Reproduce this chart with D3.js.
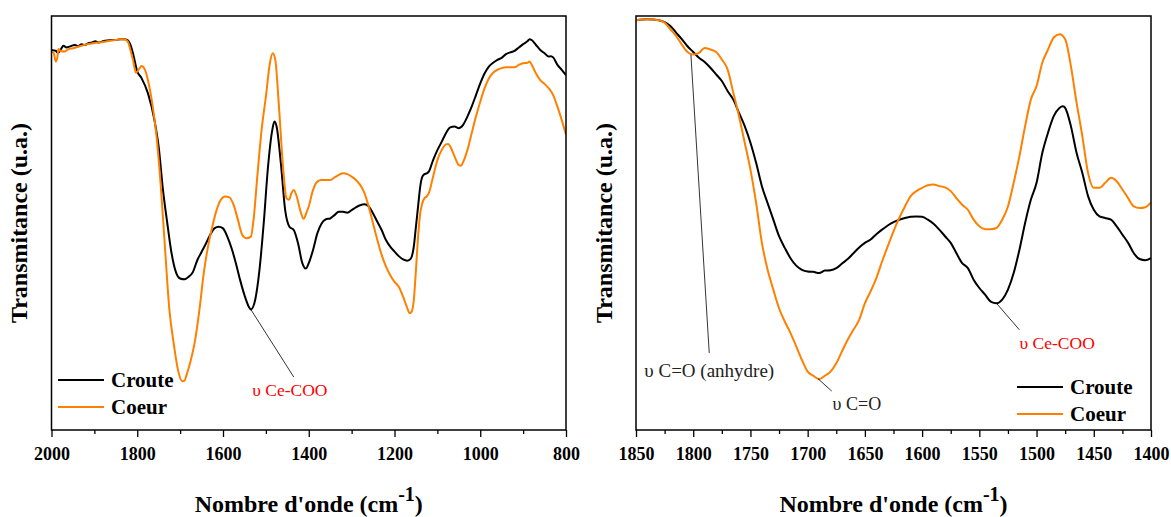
<!DOCTYPE html>
<html>
<head>
<meta charset="utf-8">
<script src="https://cdn.jsdelivr.net/npm/d3@7"></script>
<style>
  html, body { margin: 0; padding: 0; background: #fff; }
  svg { display: block; }
</style>
</head>
<body>
<svg id="chart" width="1171" height="517"></svg>
<script>
// ---------- DATA (wavenumber cm-1, transmittance a.u.) ----------
const leftCroute = [[2000,91.8],[1995,91.7],[1990,91.6],[1985,91.1],[1978,92.0],[1972,92.8],[1965,92.4],[1958,92.6],[1950,92.9],[1945,93.0],[1938,92.7],[1930,93.2],[1922,93.0],[1915,93.4],[1905,93.6],[1898,93.9],[1890,93.6],[1880,93.9],[1870,94.1],[1860,94.2],[1850,94.2],[1840,94.4],[1830,94.4],[1825,94.3],[1820,93.9],[1815,92.8],[1810,91.0],[1800,86.6],[1790,85.0],[1775,81.3],[1760,74.9],[1750,68.4],[1740,58.0],[1730,50.0],[1720,42.7],[1710,38.2],[1700,36.6],[1690,36.4],[1680,37.0],[1670,38.2],[1660,41.0],[1650,43.0],[1640,45.0],[1630,47.1],[1620,48.7],[1610,49.1],[1600,48.7],[1590,46.7],[1580,43.9],[1570,40.3],[1560,36.2],[1550,32.6],[1540,29.8],[1535,29.1],[1525,31.4],[1515,38.6],[1505,50.0],[1495,63.6],[1485,72.5],[1480,74.5],[1475,73.3],[1465,64.4],[1455,53.1],[1445,49.1],[1435,48.3],[1425,45.1],[1415,40.3],[1407,39.0],[1400,40.3],[1390,43.5],[1380,47.5],[1370,49.9],[1360,50.9],[1350,51.1],[1340,51.9],[1330,52.7],[1320,52.7],[1310,52.5],[1300,53.1],[1290,53.8],[1280,54.3],[1270,54.5],[1260,54.0],[1250,52.3],[1240,50.3],[1230,48.3],[1220,45.9],[1210,44.3],[1200,43.1],[1190,42.0],[1180,41.2],[1170,40.9],[1162,41.4],[1155,44.3],[1150,49.1],[1145,54.0],[1140,58.8],[1135,61.2],[1130,61.8],[1125,62.0],[1120,62.4],[1110,65.2],[1100,67.6],[1090,69.6],[1080,71.7],[1070,73.1],[1060,73.3],[1050,72.9],[1040,73.7],[1030,75.7],[1020,78.1],[1010,80.9],[1000,83.7],[990,86.1],[980,87.8],[970,88.7],[960,89.4],[950,89.9],[940,90.8],[930,91.2],[920,91.6],[910,92.4],[900,93.2],[890,93.9],[885,94.4],[880,94.2],[870,93.0],[860,91.8],[850,91.0],[840,90.2],[835,90.3],[830,90.0],[820,88.2],[810,87.0],[800,85.7]];

const leftCoeur = [[2000,91.4],[1995,91.1],[1990,89.0],[1986,90.2],[1984,92.0],[1980,91.6],[1970,91.4],[1960,92.0],[1950,92.2],[1940,92.5],[1930,92.8],[1920,93.1],[1910,93.3],[1900,93.5],[1880,93.7],[1860,94.1],[1850,94.2],[1840,94.4],[1830,94.4],[1822,93.8],[1815,91.4],[1810,89.4],[1803,86.3],[1795,87.3],[1790,87.9],[1782,87.0],[1775,84.5],[1765,78.9],[1755,70.9],[1745,58.8],[1735,43.5],[1725,29.0],[1715,20.9],[1705,14.5],[1695,11.8],[1690,11.9],[1685,13.3],[1675,16.9],[1665,21.7],[1655,29.0],[1645,37.8],[1635,44.3],[1625,49.1],[1615,53.1],[1605,55.6],[1595,56.4],[1585,56.2],[1575,54.3],[1565,50.7],[1555,47.1],[1545,46.3],[1535,46.7],[1528,51.5],[1520,61.2],[1510,72.5],[1500,80.5],[1490,89.0],[1484,91.0],[1478,89.4],[1470,78.9],[1460,63.6],[1452,56.0],[1446,55.6],[1440,57.3],[1435,58.0],[1428,56.4],[1420,53.1],[1412,51.0],[1405,52.6],[1400,54.0],[1390,58.0],[1380,60.0],[1370,60.4],[1360,60.4],[1350,60.4],[1340,61.0],[1330,61.6],[1320,62.0],[1310,61.8],[1300,61.2],[1290,60.4],[1280,59.2],[1270,57.2],[1260,53.9],[1250,49.9],[1240,45.9],[1230,42.3],[1220,39.5],[1210,37.4],[1200,35.8],[1190,34.6],[1180,32.2],[1170,29.4],[1165,28.2],[1160,28.6],[1155,31.4],[1150,38.6],[1145,46.7],[1140,52.3],[1135,54.8],[1130,56.0],[1125,56.4],[1120,57.2],[1110,61.2],[1100,65.2],[1090,67.6],[1080,69.0],[1075,69.1],[1070,68.5],[1060,66.1],[1050,64.0],[1045,63.8],[1040,64.7],[1030,67.6],[1020,71.7],[1010,75.7],[1000,79.3],[990,82.5],[980,84.9],[970,86.3],[960,87.0],[950,87.4],[940,87.6],[930,87.6],[920,87.6],[910,88.2],[900,88.6],[890,88.7],[885,89.0],[880,88.2],[870,86.1],[860,84.5],[850,83.6],[840,82.5],[830,80.9],[820,78.1],[810,74.9],[800,71.3]];

const rightCroute = [[1850,99.0],[1840,99.2],[1830,99.0],[1825,98.5],[1820,97.6],[1815,96.0],[1810,94.4],[1805,92.7],[1800,91.3],[1795,89.9],[1790,88.9],[1785,87.5],[1780,85.9],[1775,84.3],[1770,81.9],[1765,79.8],[1760,76.6],[1755,73.4],[1750,69.4],[1745,64.5],[1740,58.9],[1735,54.8],[1730,50.8],[1725,46.8],[1720,44.0],[1715,41.5],[1710,39.7],[1705,38.7],[1700,38.3],[1695,38.2],[1690,37.9],[1685,38.5],[1680,38.6],[1675,39.1],[1670,40.2],[1665,41.3],[1660,42.7],[1655,44.1],[1650,45.2],[1645,46.0],[1640,47.3],[1635,48.4],[1630,49.4],[1625,50.2],[1620,50.8],[1615,51.2],[1610,51.5],[1605,51.6],[1600,51.5],[1595,50.8],[1590,49.8],[1585,48.4],[1580,46.8],[1575,45.2],[1570,42.7],[1565,40.3],[1560,39.1],[1555,36.3],[1550,34.3],[1545,32.7],[1540,31.0],[1535,30.6],[1530,31.5],[1525,33.9],[1520,37.9],[1515,43.5],[1510,50.0],[1505,55.6],[1500,59.7],[1495,66.9],[1490,71.8],[1485,75.8],[1480,77.8],[1477,78.2],[1475,77.8],[1470,73.4],[1465,66.9],[1460,62.1],[1455,56.5],[1450,53.2],[1445,51.6],[1440,51.2],[1435,50.8],[1430,49.2],[1425,47.2],[1420,45.2],[1415,42.7],[1410,41.3],[1405,41.0],[1400,41.5]];

const rightCoeur = [[1850,99.0],[1840,99.2],[1830,99.0],[1825,98.4],[1820,96.8],[1815,95.2],[1810,93.1],[1805,91.3],[1800,90.7],[1795,91.1],[1790,92.3],[1785,91.9],[1780,91.3],[1775,89.5],[1770,87.1],[1765,81.5],[1760,75.8],[1755,69.4],[1750,62.9],[1745,54.8],[1740,45.2],[1735,38.7],[1730,33.9],[1725,29.4],[1720,26.2],[1715,23.4],[1710,20.2],[1705,16.9],[1700,14.1],[1695,13.1],[1690,12.3],[1685,13.1],[1680,14.1],[1675,16.1],[1670,19.0],[1665,21.8],[1660,24.2],[1655,26.6],[1650,30.6],[1645,33.5],[1640,36.7],[1635,40.7],[1630,44.4],[1625,48.0],[1620,51.2],[1615,54.0],[1610,56.5],[1605,57.7],[1600,58.5],[1595,59.1],[1590,59.3],[1585,58.9],[1580,58.6],[1575,57.7],[1570,56.0],[1565,54.4],[1560,53.2],[1555,50.8],[1550,49.2],[1545,48.5],[1540,48.5],[1535,48.8],[1530,50.8],[1525,54.0],[1520,59.7],[1515,66.1],[1510,73.4],[1505,79.8],[1500,83.1],[1495,88.7],[1490,91.9],[1485,94.8],[1480,95.6],[1475,94.4],[1470,87.9],[1465,79.0],[1460,71.0],[1455,62.1],[1450,58.5],[1445,58.5],[1440,59.7],[1435,60.9],[1430,60.1],[1425,58.1],[1420,56.0],[1415,54.0],[1410,53.6],[1405,53.8],[1400,55.0]];

const leftMajorTicks = [2000, 1800, 1600, 1400, 1200, 1000, 800];
const leftMinorTicks = [1900, 1700, 1500, 1300, 1100, 900];
const rightMajorTicks = [1850, 1800, 1750, 1700, 1650, 1600, 1550, 1500, 1450, 1400];
const rightMinorTicks = [1825, 1775, 1725, 1675, 1625, 1575, 1525, 1475, 1425];

const seriesNames = ["Croute", "Coeur"];
const seriesColors = ["#000000", "#ff8000"];

// annotations: [label, anchor wavenumber, anchor value, line-end wavenumber, line-end value, text wavenumber, text value, colour, font size]
const leftNotes = [["υ Ce-COO", 1535, 29.1, 1435, 12.8, 1444, 9.6, "#ff0000", 17.5]];
const rightNotes = [
  ["υ C=O (anhydre)", 1802, 90.6, 1786, 18.6, 1786, 14.4, "#222222", 19],
  ["υ C=O", 1691, 12.4, 1679, 9.4, 1657, 6.4, "#222222", 18],
  ["υ Ce-COO", 1535, 30.6, 1515, 24.2, 1482, 21.0, "#ff0000", 17.5]
];

// ---------- DRAWING ----------
const FONT = "'Liberation Serif', 'Times New Roman', Times, serif";
const svg = d3.select("#chart");
svg.append("rect").attr("width", 1171).attr("height", 517).attr("fill", "#fff");

function drawPanel(opt) {
  const top = 16, bottom = 430;
  const x = d3.scaleLinear().domain(opt.domain).range([opt.left, opt.right]);
  const y = d3.scaleLinear().domain([0, 100]).range([bottom, top]);
  const g = svg.append("g");

  const clipId = "clip" + opt.id;
  svg.append("clipPath").attr("id", clipId)
    .append("rect").attr("x", opt.left).attr("y", top)
    .attr("width", opt.right - opt.left).attr("height", bottom - top);

  // minor ticks
  g.append("g").attr("transform", `translate(0,${bottom})`)
    .call(d3.axisBottom(x).tickValues(opt.minor).tickSize(4).tickFormat(""))
    .call(a => a.select(".domain").remove())
    .call(a => a.selectAll("line").attr("stroke", "#000").attr("stroke-width", 1.3));

  // major ticks + labels
  g.append("g").attr("transform", `translate(0,${bottom})`)
    .call(d3.axisBottom(x).tickValues(opt.major).tickSize(7).tickPadding(10).tickFormat(d3.format("d")))
    .call(a => a.select(".domain").remove())
    .call(a => a.selectAll("line").attr("stroke", "#000").attr("stroke-width", 1.3))
    .call(a => a.selectAll("text")
      .attr("font-family", FONT).attr("font-size", 18).attr("font-weight", "bold").attr("fill", "#000"));

  // curves
  const line = d3.line().x(d => x(d[0])).y(d => y(d[1])).curve(d3.curveMonotoneX);
  const cg = g.append("g").attr("clip-path", `url(#${clipId})`);
  opt.series.forEach((s, i) => {
    cg.append("path").datum(s).attr("d", line)
      .attr("fill", "none").attr("stroke", seriesColors[i])
      .attr("stroke-width", 2).attr("stroke-linejoin", "round");
  });

  // frame
  g.append("rect").attr("x", opt.left).attr("y", top)
    .attr("width", opt.right - opt.left).attr("height", bottom - top)
    .attr("fill", "none").attr("stroke", "#000").attr("stroke-width", 1.5);

  // annotations
  opt.notes.forEach(n => {
    g.append("line")
      .attr("x1", x(n[1])).attr("y1", y(n[2]))
      .attr("x2", x(n[3])).attr("y2", y(n[4]))
      .attr("stroke", "#000").attr("stroke-width", 0.8);
    g.append("text").attr("x", x(n[5])).attr("y", y(n[6]))
      .attr("text-anchor", "middle").attr("dominant-baseline", "central")
      .attr("font-family", FONT).attr("font-size", n[8])
      .attr("fill", n[7]).text(n[0]);
  });

  // legend
  seriesNames.forEach((name, i) => {
    const ly = opt.legendY + i * 27;
    g.append("line").attr("x1", opt.legendX).attr("x2", opt.legendX + 46)
      .attr("y1", ly).attr("y2", ly)
      .attr("stroke", seriesColors[i]).attr("stroke-width", 2);
    g.append("text").attr("x", opt.legendX + 53).attr("y", ly)
      .attr("dominant-baseline", "central")
      .attr("font-family", FONT).attr("font-size", 21).attr("font-weight", "bold")
      .attr("fill", "#000").text(name);
  });

  // x title
  const xt = g.append("text")
    .attr("x", (opt.left + opt.right) / 2).attr("y", 512)
    .attr("text-anchor", "middle")
    .attr("font-family", FONT).attr("font-size", 24).attr("font-weight", "bold").attr("fill", "#000");
  xt.append("tspan").text("Nombre d'onde (cm");
  xt.append("tspan").attr("dy", -11).attr("font-size", 20).text("-1");
  xt.append("tspan").attr("dy", 11).text(")");

  // y title
  g.append("text")
    .attr("transform", `translate(${opt.left - 24.5},${(top + bottom) / 2}) rotate(-90)`)
    .attr("text-anchor", "middle")
    .attr("font-family", FONT).attr("font-size", 24).attr("font-weight", "bold").attr("fill", "#000")
    .text("Transmitance (u.a.)");
}

drawPanel({ id: "L", domain: [2000, 800], left: 51.5, right: 566,
  major: leftMajorTicks, minor: leftMinorTicks,
  series: [leftCroute, leftCoeur], notes: leftNotes,
  legendX: 58, legendY: 380 });

drawPanel({ id: "R", domain: [1850, 1400], left: 636, right: 1151,
  major: rightMajorTicks, minor: rightMinorTicks,
  series: [rightCroute, rightCoeur], notes: rightNotes,
  legendX: 1017, legendY: 387 });
</script>
</body>
</html>
